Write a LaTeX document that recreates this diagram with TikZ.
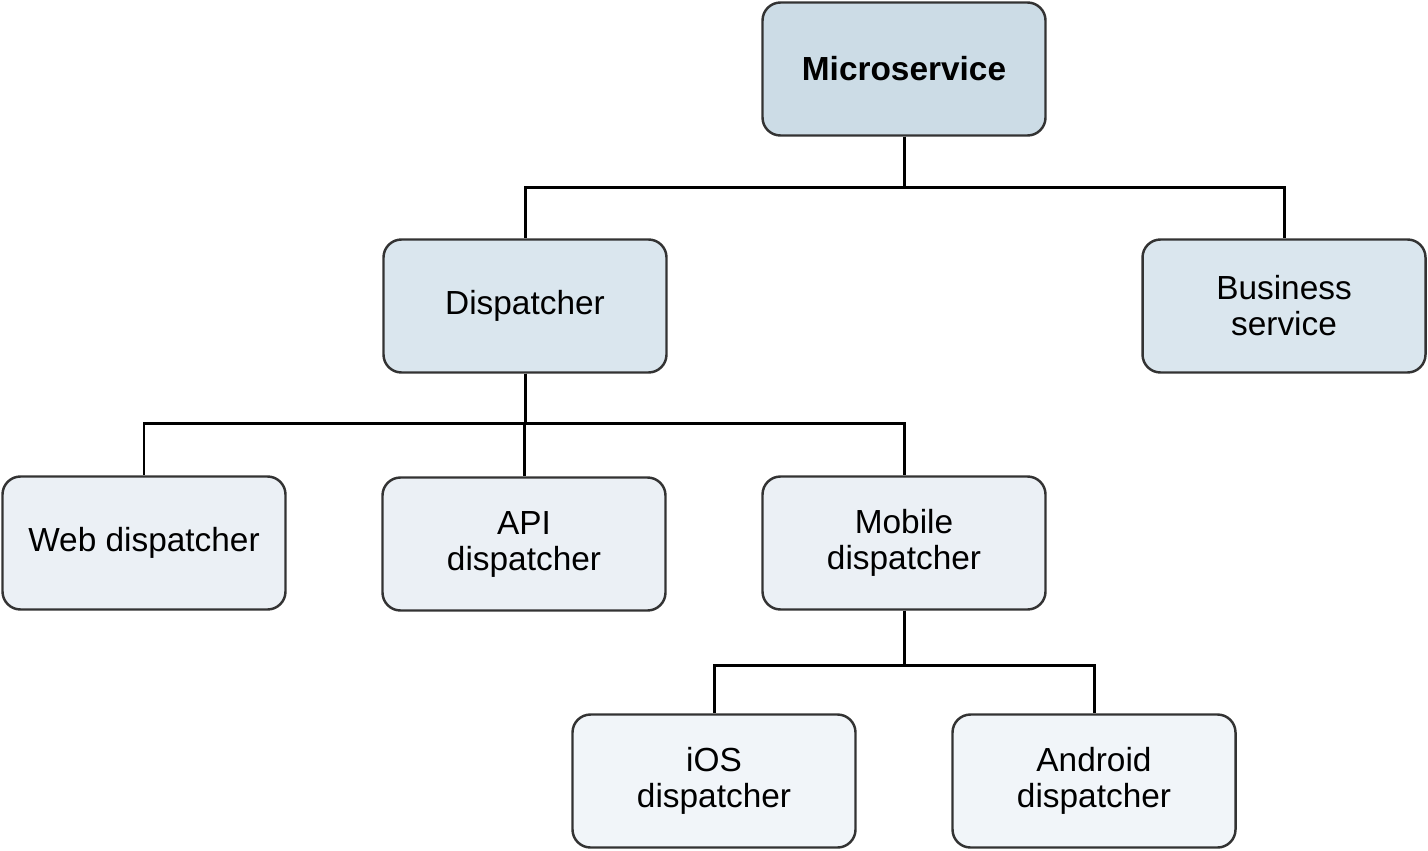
\documentclass[tikz,border=0pt]{standalone}
\usepackage{fontspec}
\setmainfont{Liberation Sans}
\usepackage{tikz}
\usetikzlibrary{positioning}
\definecolor{levelone}{HTML}{CCDCE6}
\definecolor{leveltwo}{HTML}{DAE6EE}
\definecolor{levelthree}{HTML}{EBF0F5}
\definecolor{levelfour}{HTML}{F1F5F9}
\definecolor{boxline}{HTML}{333333}
\tikzset{
  unit/.style={draw=boxline,line width=1.4pt,rounded corners=0.36cm,
    minimum width=5.66cm,minimum height=2.66cm,align=center,
    font=\fontsize{19}{20.5}\selectfont},
  link/.style={line width=1.7pt,black}
}

\begin{document}
\begin{tikzpicture}
                \useasboundingbox (0,0) rectangle (28.56,-17);
                % top level
                \node[unit,fill=levelone,font=\fontsize{19}{20.5}\selectfont\bfseries] (ms) at (18.08,-1.38) {Microservice};
                % second level
                \node[unit,fill=leveltwo] (disp) at (10.5,-6.12) {Dispatcher};
                \node[unit,fill=leveltwo] (biz) at (25.68,-6.12) {Business\\service};
                % third level
                \node[unit,fill=levelthree] (web) at (2.88,-10.86) {Web dispatcher};
                \node[unit,fill=levelthree] (api) at (10.48,-10.88) {API\\dispatcher};
                \node[unit,fill=levelthree] (mob) at (18.08,-10.86) {Mobile\\dispatcher};
                % fourth level
                \node[unit,fill=levelfour] (ios) at (14.28,-15.62) {iOS\\dispatcher};
                \node[unit,fill=levelfour] (andr) at (21.88,-15.62) {Android\\dispatcher};
                % connectors
                \draw[link] (ms.south) -- ++(0,-1.02) -| (disp.north);
                \draw[link] (ms.south) -- ++(0,-1.02) -| (biz.north);
                \draw[link] (disp.south) -- ++(0,-1.0) -| (web.north);
                \draw[link] (disp.south) -- ++(0,-1.0) -| (api.north);
                \draw[link] (disp.south) -- ++(0,-1.0) -| (mob.north);
                \draw[link] (mob.south) -- ++(0,-1.1) -| (ios.north);
                \draw[link] (mob.south) -- ++(0,-1.1) -| (andr.north);
\end{tikzpicture}
\end{document}
